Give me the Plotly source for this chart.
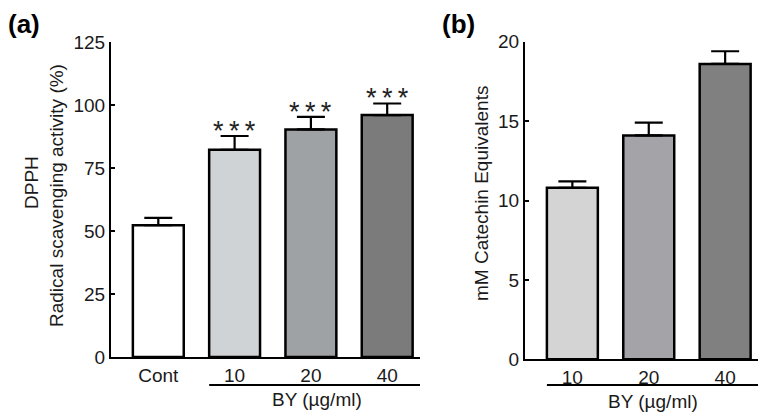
import plotly.graph_objects as go

# Panel (a): DPPH radical scavenging
cats_a = ["Cont", "10", "20", "40"]
vals_a = [52.3, 82.2, 90.3, 96.0]
err_a = [2.9, 5.5, 5.0, 4.6]
colors_a = ["#ffffff", "#d0d3d6", "#9fa2a5", "#7b7b7b"]
sig_a = ["", "*\u2009*\u2009*", "*\u2009*\u2009*", "*\u2009*\u2009*"]
yticks_a = [0, 25, 50, 75, 100, 125]

# Panel (b): catechin equivalents
cats_b = ["10", "20", "40"]
vals_b = [10.8, 14.1, 18.6]
err_b = [0.4, 0.8, 0.8]
colors_b = ["#d4d4d4", "#a4a3a8", "#808080"]
yticks_b = [0, 5, 10, 15, 20]

FONT = "Liberation Sans, Arial, sans-serif"
W, H = 769, 417
TXT = "#1a1a1a"
FS = 19

pos_a = list(range(len(cats_a)))
pos_b = list(range(len(cats_b)))

fig = go.Figure()
fig.add_trace(go.Bar(
    x=pos_a, y=vals_a, width=0.667,
    marker=dict(color=colors_a, line=dict(color="black", width=2.5)),
    error_y=dict(type="data", array=err_a, arrayminus=[0]*len(err_a), symmetric=False,
                 color="black", thickness=2.2, width=14),
    xaxis="x", yaxis="y", showlegend=False, hoverinfo="skip"))
fig.add_trace(go.Bar(
    x=pos_b, y=vals_b, width=0.667,
    marker=dict(color=colors_b, line=dict(color="black", width=2.5)),
    error_y=dict(type="data", array=err_b, arrayminus=[0]*len(err_b), symmetric=False,
                 color="black", thickness=2.2, width=14),
    xaxis="x2", yaxis="y2", showlegend=False, hoverinfo="skip"))

axis_common = dict(showgrid=False, zeroline=False, showline=True, linecolor="black",
                   linewidth=2, automargin=False,
                   tickfont=dict(family=FONT, size=FS, color=TXT))

fig.update_layout(
    template="none",
    width=W, height=H, margin=dict(l=0, r=0, t=0, b=0, pad=0), autosize=False,
    paper_bgcolor="white", plot_bgcolor="white", showlegend=False,
    xaxis=dict(domain=[111/W, 420/W], range=[-0.62, 3.43],
               tickvals=pos_a, ticktext=cats_a, ticks="", anchor="y", **axis_common),
    yaxis=dict(domain=[(H-357)/H, (H-42)/H], range=[0, 125], tickvals=yticks_a,
               ticks="inside", ticklen=4, tickwidth=2, tickcolor="black",
               anchor="x", **axis_common),
    xaxis2=dict(domain=[525/W, 758/W], range=[-0.62, 2.43],
                tickvals=pos_b, ticktext=cats_b, ticks="", anchor="y2", **axis_common),
    yaxis2=dict(domain=[(H-359.3)/H, (H-41.7)/H], range=[0, 20], tickvals=yticks_b,
                ticks="inside", ticklen=4, tickwidth=2, tickcolor="black",
                anchor="x2", **axis_common),
)

def pann(x, y, text, size=FS, angle=0, color=TXT):
    return dict(x=x/W, y=(H-y)/H, xref="paper", yref="paper", text=text,
                textangle=angle, showarrow=False, xanchor="center", yanchor="middle",
                font=dict(family=FONT, size=size, color=color))

ann = []
# significance stars
for p, v, e, s in zip(pos_a, vals_a, err_a, sig_a):
    if s:
        ann.append(dict(x=p, y=v + e, xref="x", yref="y", text=s, showarrow=False,
                        xanchor="center", yanchor="bottom", yshift=-12,
                        font=dict(family=FONT, size=27, color="#222")))
# y axis titles
ann.append(pann(31, 183, "DPPH", angle=-90))
ann.append(pann(57, 196, "Radical scavenging activity (%)", angle=-90))
ann.append(pann(481, 194, "mM Catechin Equivalents", angle=-90))
# group labels
ann.append(pann(317, 399, "BY (µg/ml)"))
ann.append(pann(653, 401, "BY (µg/ml)"))
# panel labels
ann.append(pann(24, 24, "<b>(a)</b>", size=26, color="black"))
ann.append(pann(458, 24, "<b>(b)</b>", size=26, color="black"))
fig.update_layout(annotations=ann)

# group bracket lines
fig.add_shape(type="line", xref="x", yref="paper", x0=0.667, x1=3.43,
              y0=(H-385)/H, y1=(H-385)/H, line=dict(color="black", width=2))
fig.add_shape(type="line", xref="x2", yref="paper", x0=-0.333, x1=2.43,
              y0=(H-385)/H, y1=(H-385)/H, line=dict(color="black", width=2))

fig.write_html("out.html", config={"displayModeBar": False},
               post_script="document.body.style.margin='0';document.body.style.overflow='hidden';")
